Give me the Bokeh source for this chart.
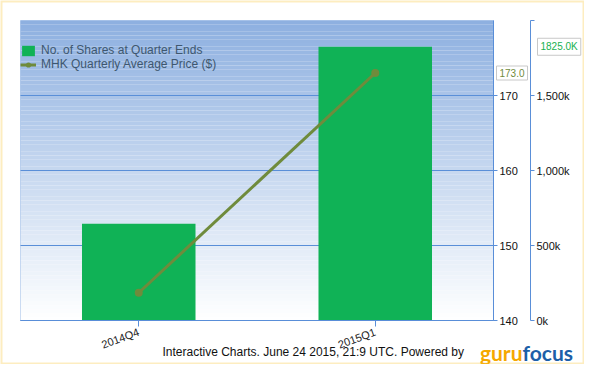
from bokeh.plotting import figure
from bokeh.models import (Range1d, LinearAxis, FixedTicker, Legend, LegendItem,
                          Label, BoxAnnotation, ColumnDataSource)
from bokeh.embed import file_html
from bokeh.resources import INLINE

# ---- data ----
quarters = ["2014Q4", "2015Q1"]
shares_k = [645.0, 1825.0]          # thousands of shares
avg_price = [143.7, 173.0]          # MHK quarterly average price ($)
price_ticks = [140, 150, 160, 170]
share_ticks = [0, 500, 1000, 1500, 2000]
share_tick_labels = ["0k", "500k", "1,000k", "1,500k", ""]
price_flag = "173.0"
shares_flag = "1825.0K"
footer = "Interactive Charts. June 24 2015, 21:9 UTC. Powered by"
logo_a, logo_b = "guru", "focus"

FONT = "Liberation Sans"
LOGO_FONT = "Lato"
BLUE = "#5a8fd8"
BAR = "#10b256"
LINE = "#6f8b3c"

# ---- pixel layout (canvas) ----
W, H = 584, 364
BOX_L, BOX_R, BOX_T, BOX_B = 20, 493, 20, 320
AX2_PX = 530
P_MIN, P_MAX = 140, 180
S_MIN, S_MAX = 0, 2000
nq = len(quarters)

xpx = (BOX_R - BOX_L) / nq
x_range = Range1d(-BOX_L / xpx, nq + (W - BOX_R) / xpx)
ppx = (BOX_B - BOX_T) / (P_MAX - P_MIN)
y_range = Range1d(P_MIN - (H - BOX_B) / ppx, P_MAX + BOX_T / ppx)
spx = (BOX_B - BOX_T) / (S_MAX - S_MIN)
s_range = Range1d(S_MIN - (H - BOX_B) / spx, S_MAX + BOX_T / spx)
AX2_X = (AX2_PX - BOX_L) / xpx

p = figure(width=W, height=H, x_range=x_range, y_range=y_range,
           x_axis_location=None, y_axis_location=None,
           output_backend="svg", toolbar_location=None,
           min_border=0, min_border_left=0, min_border_right=0,
           min_border_top=0, min_border_bottom=0)
p.extra_y_ranges = {"shares": s_range}
p.background_fill_color = "white"
p.border_fill_color = "white"
p.outline_line_color = None
for g in p.grid:
    g.visible = False

# gradient plot-area background
n = 80
top_rgb = (141, 176, 224)
for i in range(n):
    t = (i + 0.5) / n
    r, g_, b = [int(round(255 + (c - 255) * t)) for c in top_rgb]
    p.add_layout(BoxAnnotation(left=0, right=nq,
                               bottom=P_MIN + (P_MAX - P_MIN) * i / n,
                               top=P_MIN + (P_MAX - P_MIN) * (i + 1) / n,
                               fill_color=f"#{r:02x}{g_:02x}{b:02x}", fill_alpha=1,
                               line_color=None, level="image"))

# grid lines
p.segment(x0=[0] * len(price_ticks), x1=[nq] * len(price_ticks),
          y0=price_ticks, y1=price_ticks, line_color=BLUE, line_width=1)

xs = [i + 0.5 for i in range(nq)]
src = ColumnDataSource(dict(x=xs, q=quarters, shares=shares_k, price=avg_price))
bars = p.vbar(x="x", top="shares", bottom=0, width=0.48, y_range_name="shares",
              fill_color=BAR, line_color=None, source=src)
ln = p.line(x="x", y="price", line_color=LINE, line_width=3, source=src)
pts = p.scatter(x="x", y="price", size=8, fill_color=LINE, line_color=None, source=src)

# plot-area outline
p.add_layout(BoxAnnotation(left=0, right=nq, bottom=P_MIN, top=P_MAX, fill_alpha=0,
                           line_color=BLUE, line_width=1, level="overlay"))
# outer chart border (whole canvas)
p.add_layout(BoxAnnotation(left=x_range.start, right=x_range.end,
                           bottom=y_range.start, top=y_range.end,
                           fill_alpha=0, line_color="#f8c22e", line_width=4,
                           level="overlay"))

# axes (drawn inside the frame at fixed locations)
xa = LinearAxis(fixed_location=P_MIN, bounds=(0, nq), ticker=FixedTicker(ticks=xs),
                major_label_overrides={x: q for x, q in zip(xs, quarters)})
xa.major_label_orientation = 0.35
xa.axis_line_color = BLUE
xa.major_tick_line_color = BLUE
xa.major_tick_out = 6
xa.major_tick_in = 0
xa.minor_tick_line_color = None
xa.major_label_text_font = FONT
xa.major_label_text_font_size = "11px"
xa.major_label_text_color = "#222222"
p.add_layout(xa, "below")

ya = LinearAxis(fixed_location=nq, bounds=(P_MIN, P_MAX), ticker=FixedTicker(ticks=price_ticks))
ya.axis_line_color = BLUE
ya.major_tick_line_color = BLUE
ya.major_tick_out = 4
ya.major_tick_in = 0
ya.minor_tick_line_color = None
ya.major_label_text_font = FONT
ya.major_label_text_font_size = "11px"
ya.major_label_text_color = "#111111"
ya.major_label_standoff = 2
p.add_layout(ya, "right")

ya2 = LinearAxis(y_range_name="shares", fixed_location=AX2_X, bounds=(S_MIN, S_MAX),
                 ticker=FixedTicker(ticks=share_ticks),
                 major_label_overrides={v: s for v, s in zip(share_ticks, share_tick_labels)})
ya2.axis_line_color = BLUE
ya2.major_tick_line_color = BLUE
ya2.major_tick_out = 4
ya2.major_tick_in = 0
ya2.minor_tick_line_color = None
ya2.major_label_text_font = FONT
ya2.major_label_text_font_size = "11px"
ya2.major_label_text_color = "#111111"
ya2.major_label_standoff = 2
p.add_layout(ya2, "right")

legend = Legend(items=[LegendItem(label="No. of Shares at Quarter Ends", renderers=[bars]),
                       LegendItem(label="MHK Quarterly Average Price ($)", renderers=[ln, pts])],
                location=(BOX_L, 293), background_fill_alpha=0, border_line_color=None,
                padding=3, spacing=0, glyph_width=16, glyph_height=13, label_height=13,
                label_standoff=5, label_text_font=FONT, label_text_font_size="12px",
                label_text_color="#3e576f", margin=0)
p.add_layout(legend)

# flag labels
p.add_layout(Label(x=496, y=avg_price[-1], x_units="screen", text=price_flag,
                   text_baseline="middle", text_font=FONT, text_font_size="10px",
                   text_color=LINE, background_fill_color="white",
                   border_line_color="#c8c8c8", padding=3))
p.add_layout(Label(x=537, y=shares_k[-1], x_units="screen", y_range_name="shares",
                   text=shares_flag, text_baseline="middle", text_font=FONT,
                   text_font_size="10px", text_color="#18b14f",
                   background_fill_color="white", border_line_color="#c8c8c8", padding=3))

# footer
p.add_layout(Label(x=162, y=13, x_units="screen", y_units="screen", text=footer,
                   text_baseline="middle", text_font=FONT, text_font_size="12px",
                   text_color="#111111"))
p.add_layout(Label(x=522, y=12, x_units="screen", y_units="screen", text=logo_a,
                   text_align="right", text_baseline="alphabetic",
                   text_font=LOGO_FONT, text_font_style="bold",
                   text_font_size="21px", text_color="#f5a800"))
p.add_layout(Label(x=522, y=12, x_units="screen", y_units="screen", text=logo_b,
                   text_align="left", text_baseline="alphabetic",
                   text_font=LOGO_FONT, text_font_style="bold",
                   text_font_size="21px", text_color="#1d5fa8"))

open("out.html", "w").write(file_html(p, INLINE))
